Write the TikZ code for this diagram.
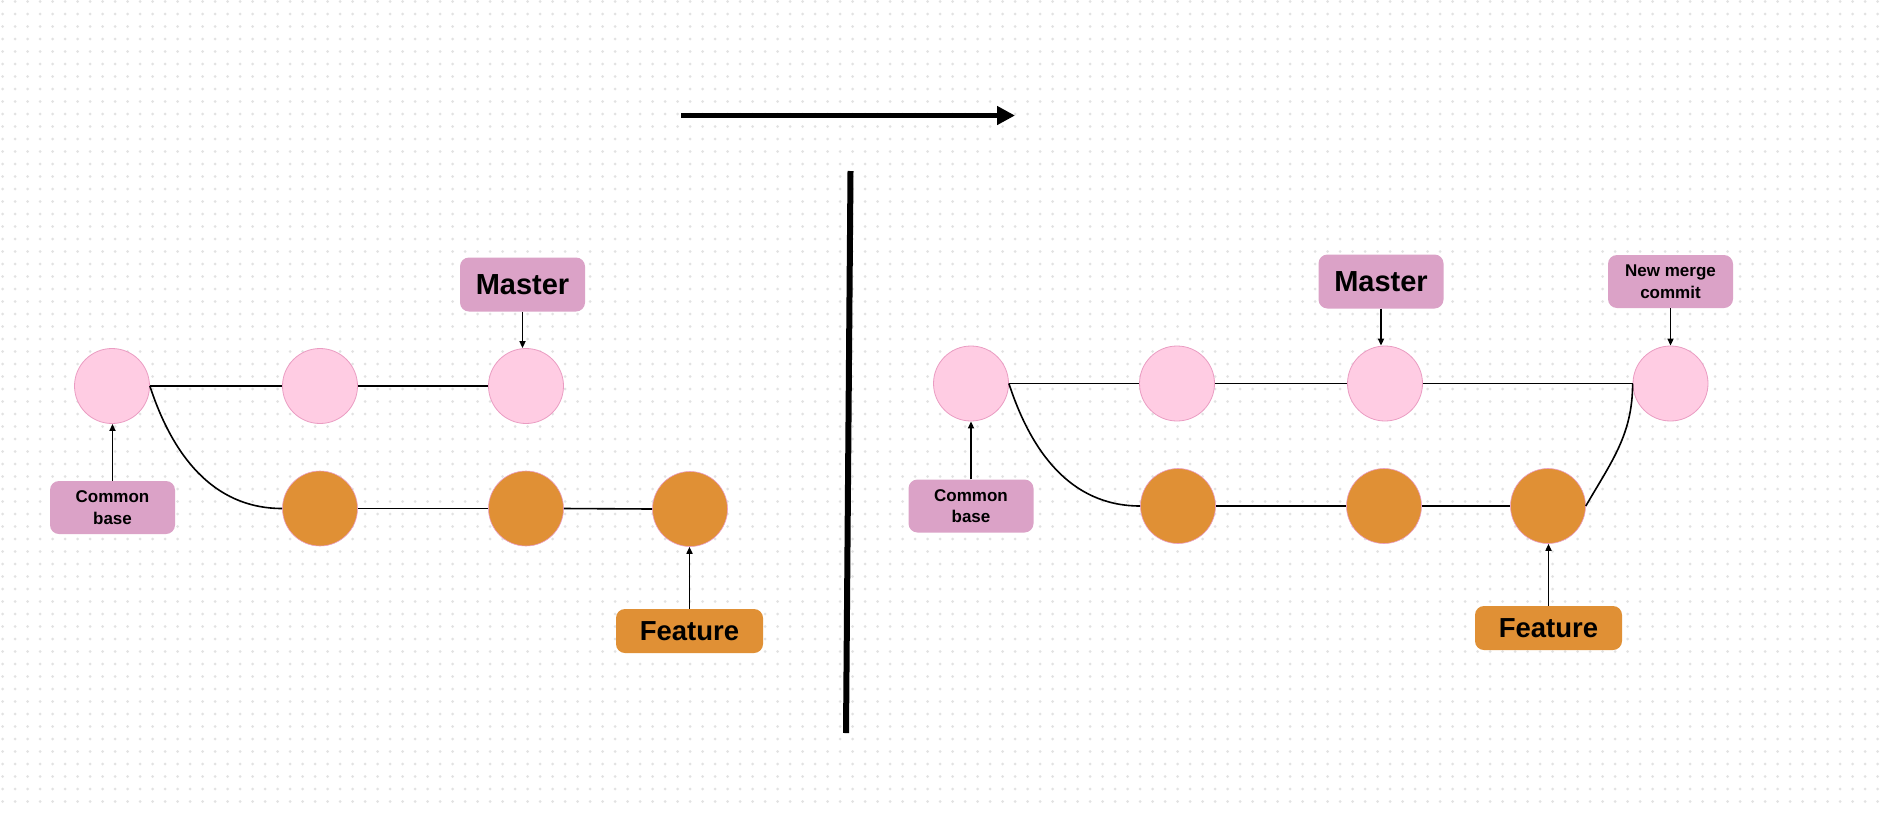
\documentclass[tikz,border=0pt]{standalone}
\usepackage{fontspec}
\setmainfont{Liberation Sans}
\usetikzlibrary{arrows.meta}
\definecolor{pinkfill}{HTML}{FFCCE3}
\definecolor{pinkline}{HTML}{EA9CC2}
\definecolor{boxpink}{HTML}{DBA2C7}
\definecolor{orangec}{HTML}{E09035}
\definecolor{dotc}{HTML}{E2E2E2}
\begin{document}
\begin{tikzpicture}[x=1pt,y=-1pt,
  pc/.style={circle, minimum size=75pt, inner sep=0pt, fill=pinkfill, draw=pinkline, line width=0.8pt},
  oc/.style={circle, minimum size=75pt, inner sep=0pt, fill=orangec, draw=pinkline, line width=0.6pt},
  bigbox/.style={rounded corners=9pt, inner sep=0pt, font=\fontsize{29}{34}\selectfont\bfseries, text=black},
  masterbox/.style={bigbox, fill=boxpink, minimum width=125pt, minimum height=54pt},
  featbox/.style={bigbox, fill=orangec, minimum width=147pt, minimum height=44pt, font=\fontsize{27.5}{32}\selectfont\bfseries},
  smallbox/.style={rounded corners=9pt, inner sep=0pt, align=center, font=\fontsize{17}{21.5}\selectfont\bfseries, fill=boxpink, minimum width=125pt, minimum height=53pt},
  link/.style={line width=1.6pt},
  ptr/.style={line width=1.6pt, -{Triangle[length=7pt,width=6pt]}},
  dotrow/.style={draw=dotc, line width=3pt, line cap=round, dash pattern=on 0pt off 12.5pt},
]
\useasboundingbox (0,0) rectangle (1884,812);
\fill[white] (0,0) rectangle (1884,812);
\foreach \j in {0,...,64}{
  \coordinate (ds) at (2.7,{1.5+12.5*\j});
  \coordinate (de) at (1884,{1.5+12.5*\j});
  \path[dotrow] (ds) -- (de);
}

% top arrow and divider
\coordinate (A1) at (681,115.5);
\coordinate (A2) at (1015,115.5);
\draw[line width=4.5pt, -{Triangle[length=18pt,width=18pt]}] (A1) -- (A2);
\coordinate (V1) at (850.5,171);
\coordinate (V2) at (846,733);
\draw[line width=6pt] (V1) -- (V2);

% ---------- left panel ----------
\node[pc] (lp1) at (112,386) {};
\node[pc] (lp2) at (320,386) {};
\node[pc] (lp3) at (526,386) {};
\node[oc] (lo1) at (320,508.5) {};
\node[oc] (lo2) at (526,508.5) {};
\node[oc] (lo3) at (690,509) {};
\node[masterbox] (lm) at (522.5,284.5) {Master};
\node[smallbox] (lc) at (112.5,507.5) {Common\\base};
\node[featbox] (lf) at (689.5,631) {Feature};

\draw[link] (lp1.east) -- (lp2.west);
\draw[link] (lp2.east) -- (lp3.west);
\draw[link] (lo1.east) -- (lo2.west);
\draw[link] (lo2.east) -- (lo3.west);
\draw[link] (lp1.east) to[out=-72,in=180] (lo1.west);
\draw[ptr] (lm.south) -- (lm.south |- lp3.north);
\draw[ptr] (lc.north) -- (lc.north |- lp1.south);
\draw[ptr] (lf.north) -- (lf.north |- lo3.south);

% ---------- right panel ----------
\node[pc] (rp1) at (971,383.5) {};
\node[pc] (rp2) at (1177,383.5) {};
\node[pc] (rp3) at (1385,383.5) {};
\node[pc] (rp4) at (1670.5,383.5) {};
\node[oc] (ro1) at (1178,506) {};
\node[oc] (ro2) at (1384,506) {};
\node[oc] (ro3) at (1548,506) {};
\node[masterbox] (rm) at (1381,281.5) {Master};
\node[smallbox] (rn) at (1670.5,281.5) {New merge\\commit};
\node[smallbox] (rc) at (971,506) {Common\\base};
\node[featbox] (rf) at (1548.5,628) {Feature};

\draw[link] (rp1.east) -- (rp2.west);
\draw[link] (rp2.east) -- (rp3.west);
\draw[link] (rp3.east) -- (rp4.west);
\draw[link] (ro1.east) -- (ro2.west);
\draw[link] (ro2.east) -- (ro3.west);
\draw[link] (rp1.east) to[out=-72,in=180] (ro1.west);
\draw[link] (ro3.east) to[out=60,in=-90] (rp4.west);
\draw[ptr] (rm.south) -- (rm.south |- rp3.north);
\draw[ptr] (rn.south) -- (rn.south |- rp4.north);
\draw[ptr] (rc.north) -- (rc.north |- rp1.south);
\draw[ptr] (rf.north) -- (rf.north |- ro3.south);
\end{tikzpicture}
\end{document}
